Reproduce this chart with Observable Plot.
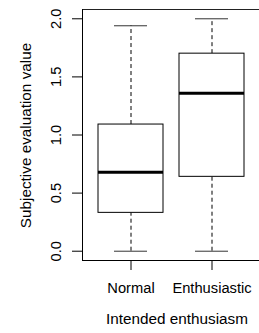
<!DOCTYPE html>
<html>
<head>
<meta charset="utf-8">
<script src="https://cdn.jsdelivr.net/npm/d3@7"></script>
<script src="https://cdn.jsdelivr.net/npm/@observablehq/plot@0.6"></script>
<style>
  html, body { margin: 0; padding: 0; background: white; overflow: hidden; }
  svg { max-width: none !important; }
</style>
</head>
<body>
<div id="chart"></div>
<script>
const categories = ["Normal", "Enthusiastic"];
const lowerWhisker = [0.0, 0.0];
const q1 = [0.33, 0.64];
const median = [0.68, 1.36];
const q3 = [1.09, 1.70];
const upperWhisker = [1.94, 2.0];
const yTicks = [0, 0.5, 1.0, 1.5, 2.0];
const xTitle = "Intended enthusiasm";
const yTitle = "Subjective evaluation value";

const data = categories.map((c, i) => ({
  cat: c, lo: lowerWhisker[i], q1: q1[i], med: median[i], q3: q3[i], hi: upperWhisker[i]
}));

const font = "'Liberation Sans', Arial, Helvetica, sans-serif";
const fsTick = 14.7;
const fsTitle = 15.3;

const chart = Plot.plot({
  width: 260,
  height: 333,
  marginLeft: 82,
  marginRight: 0,
  marginTop: 9,
  marginBottom: 73,
  style: { fontFamily: font, fontSize: fsTick + "px", color: "black", background: "white" },
  x: { type: "band", domain: categories, paddingInner: 0.2, paddingOuter: 0.189 },
  y: { domain: [-0.08, 2.08] },
  marks: [
    Plot.frame({ anchor: "top", stroke: "#222" }),
    Plot.frame({ anchor: "left", stroke: "black" }),
    Plot.frame({ anchor: "bottom", stroke: "black" }),
    Plot.axisY({ ticks: yTicks, tickFormat: d3.format(".1f"), tickSize: 10, tickPadding: 12, tickRotate: -90, label: null, fontSize: fsTick }),
    Plot.axisX({ tickSize: 10, tickPadding: 12, label: null, fontSize: fsTick }),
    Plot.ruleX(data, { x: "cat", y1: "q3", y2: "hi", stroke: "black", strokeDasharray: "4,3" }),
    Plot.ruleX(data, { x: "cat", y1: "lo", y2: "q1", stroke: "black", strokeDasharray: "4,3" }),
    Plot.tickY(data, { x: "cat", y: "hi", stroke: "#333", insetLeft: 16, insetRight: 16 }),
    Plot.tickY(data, { x: "cat", y: "lo", stroke: "#333", insetLeft: 16, insetRight: 16 }),
    Plot.barY(data, { x: "cat", y1: "q1", y2: "q3", fill: "white", stroke: "black", strokeWidth: 1 }),
    Plot.tickY(data, { x: "cat", y: "med", stroke: "black", strokeWidth: 3 }),
    Plot.text([yTitle], { frameAnchor: "left", text: d => d, rotate: -90, lineAnchor: "bottom", textAnchor: "middle", dx: -52, dy: 0.5, fontSize: fsTitle }),
    Plot.text([xTitle], { frameAnchor: "bottom", text: d => d, lineAnchor: "bottom", textAnchor: "middle", dx: 5.5, dy: 63, fontSize: fsTitle })
  ]
});
document.getElementById("chart").appendChild(chart);
</script>
</body>
</html>
